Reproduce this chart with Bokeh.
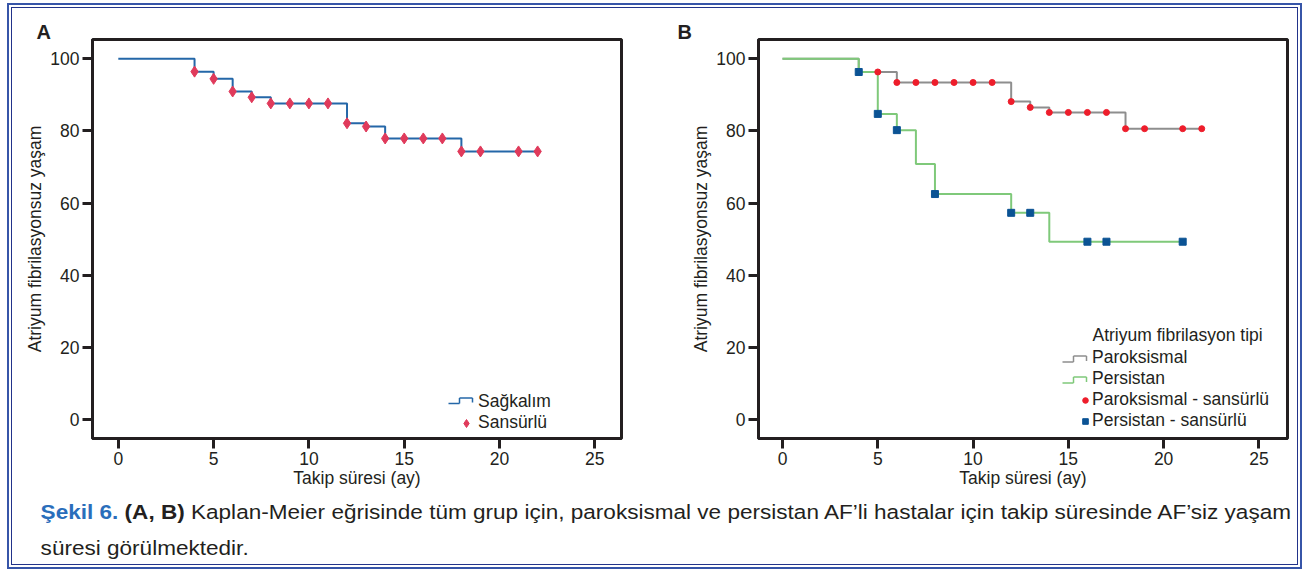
from bokeh.plotting import figure
from bokeh.models import Range1d, FixedTicker, Legend, LegendItem, Label, Div, Arrow
from bokeh.layouts import row, column
from bokeh.embed import file_html
from bokeh.resources import INLINE

FONT = "Liberation Sans"
INK = "#231f20"
FS = "17.5px"

# ---------------- data ----------------
x_ticks = [0, 5, 10, 15, 20, 25]
y_ticks = [0, 20, 40, 60, 80, 100]

# Panel A: whole group
a_step_time = [0, 4, 5, 6, 7, 8, 12, 13, 14, 18, 22]
a_step_surv = [100, 96.4, 94.4, 90.9, 89.3, 87.6, 82.1, 81.2, 77.9, 74.3, 74.3]
a_cens_time = [4, 5, 6, 7, 8, 9, 10, 11, 12, 13, 14, 15, 16, 17, 18, 19, 21, 22]
a_cens_surv = [96.4, 94.4, 90.9, 89.3, 87.6, 87.6, 87.6, 87.6, 82.1, 81.2,
               77.9, 77.9, 77.9, 77.9, 74.3, 74.3, 74.3, 74.3]

# Panel B: paroxysmal vs persistent
parok_time = [0, 4, 6, 12, 13, 14, 18, 22]
parok_surv = [100, 96.3, 93.4, 88.1, 86.5, 85.1, 80.6, 80.6]
parok_cens_time = [5, 6, 7, 8, 9, 10, 11, 12, 13, 14, 15, 16, 17, 18, 19, 21, 22]
parok_cens_surv = [96.3, 93.4, 93.4, 93.4, 93.4, 93.4, 93.4, 88.1, 86.5,
                   85.1, 85.1, 85.1, 85.1, 80.6, 80.6, 80.6, 80.6]
pers_time = [0, 4, 5, 6, 7, 8, 12, 14, 21]
pers_surv = [100, 96.3, 84.7, 80.2, 70.8, 62.5, 57.3, 49.3, 49.3]
pers_cens_time = [4, 5, 6, 8, 12, 13, 16, 17, 21]
pers_cens_surv = [96.3, 84.7, 80.2, 62.5, 57.3, 57.3, 49.3, 49.3, 49.3]

x_title = "Takip süresi (ay)"
y_title = "Atriyum fibrilasyonsuz yaşam"

H_ROW = 486
FRAME_TOP = 31
FRAME_H = 399


def make_panel(width, left, right, x0, x1, tag, tag_offset):
    p = figure(width=width, height=H_ROW,
               x_range=Range1d(x0, x1), y_range=Range1d(-5.2, 105.3),
               output_backend="svg", toolbar_location=None,
               min_border_left=left, min_border_right=right,
               min_border_top=FRAME_TOP,
               min_border_bottom=H_ROW - FRAME_TOP - FRAME_H)
    p.title.text = tag
    p.title.align = "left"
    p.title.offset = tag_offset
    p.title.standoff = -7
    p.title.text_font = FONT
    p.title.text_font_size = "20px"
    p.title.text_font_style = "bold"
    p.title.text_color = INK
    p.xgrid.visible = False
    p.ygrid.visible = False
    p.outline_line_color = INK
    p.outline_line_width = 3
    p.outline_line_alpha = 1
    p.background_fill_color = "white"
    p.border_fill_color = "white"
    p.xaxis.ticker = FixedTicker(ticks=x_ticks)
    p.yaxis.ticker = FixedTicker(ticks=y_ticks)
    p.xaxis.axis_label = x_title
    p.yaxis.axis_label = y_title
    for ax in (p.xaxis[0], p.yaxis[0]):
        ax.axis_line_color = INK
        ax.axis_line_width = 3
        ax.major_tick_line_color = INK
        ax.major_tick_line_width = 3
        ax.major_tick_out = 10
        ax.major_tick_in = 0
        ax.minor_tick_line_color = None
        ax.major_label_text_font = FONT
        ax.major_label_text_font_size = FS
        ax.major_label_text_color = INK
        ax.major_label_standoff = 3
        ax.axis_label_text_font = FONT
        ax.axis_label_text_font_size = FS
        ax.axis_label_text_font_style = "normal"
        ax.axis_label_text_color = INK
    p.xaxis.axis_label_standoff = 0
    p.yaxis.axis_label_standoff = 2
    return p


def legend_style(leg, gw, gh, spacing):
    leg.background_fill_alpha = 0
    leg.border_line_alpha = 0
    leg.label_text_font = FONT
    leg.label_text_font_size = FS
    leg.label_text_color = INK
    leg.glyph_width = gw
    leg.glyph_height = gh
    leg.label_height = 20
    leg.label_standoff = 0
    leg.spacing = spacing
    leg.padding = 4
    leg.margin = 0


def step_icon(p, x0, xa, x1, y_low, y_high, color):
    # small step-shaped legend symbol, in screen units relative to the frame
    segs = [(x0, y_low, xa, y_low), (xa, y_low, xa, y_high),
            (xa, y_high, x1, y_high), (x1, y_high, x1, y_low + 1)]
    for (sx, sy, ex, ey) in segs:
        p.add_layout(Arrow(x_start=sx, y_start=sy, x_end=ex, y_end=ey,
                           start_units="screen", end_units="screen",
                           end=None, start=None, line_color=color, line_width=1.5))


# ---------------- panel A ----------------
pA = make_panel(646, 80, 37, -1.354, 26.40, "A", -56)
rA_line = pA.step(a_step_time, a_step_surv, mode="after", line_color="#2467a8", line_width=2)
rA_cens = pA.scatter(a_cens_time, a_cens_surv, marker="diamond", size=11,
                     fill_color="#e03a5b", line_color="#e03a5b")
rA_key = pA.step([], [], mode="after", line_alpha=0)
legA = Legend(items=[LegendItem(label="Sağkalım", renderers=[rA_key]),
                     LegendItem(label="Sansürlü", renderers=[rA_cens])],
              location=(358, 1))
legend_style(legA, 24, 20, 0)
pA.add_layout(legA)
step_icon(pA, 356, 367, 380, 35, 40.5, "#2467a8")

# ---------------- panel B ----------------
pB = make_panel(639, 100, 10, -1.26, 26.5, "B", -81)
rP_line = pB.step(parok_time, parok_surv, mode="after", line_color="#8e8e8e", line_width=2)
rS_line = pB.step(pers_time, pers_surv, mode="after", line_color="#7fc97a", line_width=2)
rP_cens = pB.scatter(parok_cens_time, parok_cens_surv, marker="circle", size=6,
                     fill_color="#ee1d2b", line_color="#ee1d2b")
rS_cens = pB.scatter(pers_cens_time, pers_cens_surv, marker="square", size=7,
                     fill_color="#0b5394", line_color="#0b5394")
rP_key = pB.step([], [], mode="after", line_alpha=0)
rS_key = pB.step([], [], mode="after", line_alpha=0)
legB = Legend(items=[LegendItem(label="Paroksismal", renderers=[rP_key]),
                     LegendItem(label="Persistan", renderers=[rS_key]),
                     LegendItem(label="Paroksismal - sansürlü", renderers=[rP_cens]),
                     LegendItem(label="Persistan - sansürlü", renderers=[rS_cens])],
              location=(316, 3))
legend_style(legB, 14, 16, 0)
pB.add_layout(legB)
step_icon(pB, 304, 315, 328, 76.5, 82.5, "#8e8e8e")
step_icon(pB, 304, 315, 328, 55.5, 61.5, "#7fc97a")
pB.add_layout(Label(x=334, y=104, x_units="screen", y_units="screen",
                    text="Atriyum fibrilasyon tipi", text_font=FONT,
                    text_font_size=FS, text_color=INK, text_baseline="middle"))

# ---------------- caption ----------------
caption = Div(
    text=('<div style="padding-left:26px;font-family:\'Liberation Sans\',Arial,sans-serif;'
          'font-size:20.5px;line-height:36px;color:#231f20;white-space:nowrap;'
          'transform:scaleX(1.1);transform-origin:0 0;">'
          '<span style="color:#2a6ebb;font-weight:bold">Şekil 6.</span> '
          '<b>(A, B)</b> Kaplan-Meier eğrisinde tüm grup için, paroksismal ve persistan '
          'AF’li hastalar için takip süresinde AF’siz yaşam<br>süresi görülmektedir.</div>'),
    width=1285, height=556 - H_ROW, margin=0)

layout = column(row(pA, pB, spacing=0), caption, spacing=0,
                margin=(8, 9, 4, 12),
                styles={"box-shadow": "0 0 0 1px #22338a, 0 0 0 3px #ffffff, 0 0 0 5px #3755a8",
                        "background": "white"})

open("out.html", "w").write(file_html(layout, INLINE))
